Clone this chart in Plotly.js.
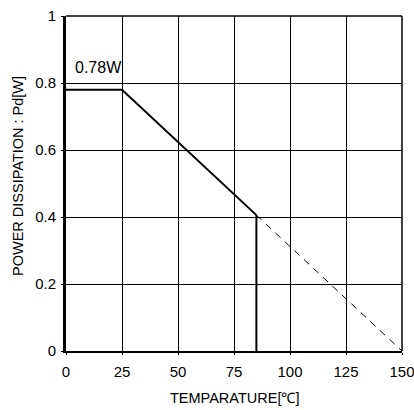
<!DOCTYPE html>
<html><head><meta charset="utf-8">
<script src="https://cdn.plot.ly/plotly-3.0.1.min.js"></script>
<style>body{margin:0;background:#fff}#c{width:414px;height:410px}</style>
</head><body><div id="c"></div>
<script>
const solidX = [0, 25, 85];
const solidY = [0.78, 0.78, 0.4056];
const dropX = [85, 85];
const dropY = [0.4056, 0];
const dashX = [85, 150];
const dashY = [0.4056, 0];
const xTicks = [0, 25, 50, 75, 100, 125, 150];
const yTicks = [0, 0.2, 0.4, 0.6, 0.8, 1];
const yTickText = ['0', '0.2', '0.4', '0.6', '0.8', '1'];
const labelText = '0.78W';
const xTitle = 'TEMPARATURE[℃]';
const yTitle = 'POWER DISSIPATION : Pd[W]';

const fam = 'Liberation Sans, Arial, sans-serif';
const tf = {family: fam, size: 15, color: '#000'};
const ttl = {family: fam, size: 14.5, color: '#000'};
const traces = [
  {x: solidX, y: solidY, mode: 'lines', line: {color: '#000', width: 2}, hoverinfo: 'skip'},
  {x: dropX, y: dropY, mode: 'lines', line: {color: '#000', width: 2}, hoverinfo: 'skip'},
  {x: dashX, y: dashY, mode: 'lines', line: {color: '#000', width: 1, dash: '7px,6px'}, hoverinfo: 'skip'}
];
const layout = {
  width: 414, height: 410,
  margin: {l: 66, r: 12, t: 16, b: 59},
  paper_bgcolor: '#fff', plot_bgcolor: '#fff',
  showlegend: false,
  font: tf,
  xaxis: {
    range: [0, 150], tickvals: xTicks, ticktext: xTicks.map(String),
    showgrid: true, gridcolor: '#000', gridwidth: 1,
    zeroline: false, showline: true, linecolor: '#000', linewidth: 2,
    ticks: 'outside', ticklen: 2, tickcolor: '#000', tickfont: tf,
    ticklabelstandoff: 4, ticklabeloverflow: 'allow', fixedrange: true
  },
  yaxis: {
    range: [0, 1], tickvals: yTicks, ticktext: yTickText,
    showgrid: true, gridcolor: '#000', gridwidth: 1,
    zeroline: false, showline: true, linecolor: '#000', linewidth: 3,
    ticks: 'outside', ticklen: 2, tickcolor: '#000', tickfont: tf,
    ticklabelstandoff: 2, ticklabeloverflow: 'allow', fixedrange: true
  },
  shapes: [
    {type: 'line', xref: 'paper', yref: 'paper', x0: 0, x1: 1, y0: 1, y1: 1, line: {color: '#000', width: 1.5}},
    {type: 'line', xref: 'paper', yref: 'paper', x0: 1, x1: 1, y0: 0, y1: 1, line: {color: '#000', width: 1.5}}
  ],
  annotations: [
    {x: 3.0, y: 0.846, xref: 'x', yref: 'y', text: labelText, showarrow: false, xanchor: 'left', yanchor: 'middle', font: {family: fam, size: 16, color: '#000'}},
    {x: 0.5, y: 0, xref: 'paper', yref: 'paper', yshift: -57, text: xTitle, showarrow: false, xanchor: 'center', yanchor: 'bottom', font: ttl},
    {x: -0.1429, y: 0.5224, xref: 'paper', yref: 'paper', text: yTitle, textangle: -90, showarrow: false, xanchor: 'center', yanchor: 'middle', font: ttl}
  ]
};
Plotly.newPlot('c', traces, layout, {displayModeBar: false, staticPlot: true});
</script></body></html>
